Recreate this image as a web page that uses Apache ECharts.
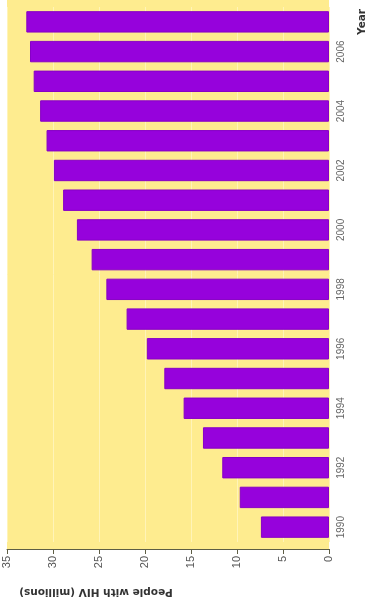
<!DOCTYPE html>
<html>
<head>
<meta charset="utf-8">
<script src="https://cdn.jsdelivr.net/npm/echarts@6/dist/echarts.min.js"></script>
<style>html,body{margin:0;padding:0;background:#fff}#c{width:370px;height:606px}</style>
</head>
<body>
<div id="c"></div>
<script>
var years = ['1990','1991','1992','1993','1994','1995','1996','1997','1998','1999','2000','2001','2002','2003','2004','2005','2006','2007'];
var peopleWithHIV = [7.4, 9.7, 11.6, 13.7, 15.8, 17.9, 19.8, 22.0, 24.2, 25.8, 27.4, 28.9, 29.9, 30.7, 31.4, 32.1, 32.5, 32.9];
var valueTicks = [0, 5, 10, 15, 20, 25, 30, 35];
var valueAxisTitle = 'People with HIV (millions)';
var categoryAxisTitle = 'Year';

var chart = echarts.init(document.getElementById('c'), null, {renderer: 'canvas'});
var font = "'Liberation Sans', Arial, sans-serif";
var titleFont = "'DejaVu Sans', Verdana, sans-serif";
chart.setOption({
  animation: false,
  grid: {left: 7, right: 41, top: 7, bottom: 64, containLabel: false},
  graphic: [
    {type: 'rect', z: -10, silent: true, shape: {x: 7, y: 0, width: 322, height: 549}, style: {fill: '#feec8f'}},
    {type: 'text', x: 96, y: 592, rotation: Math.PI, style: {text: valueAxisTitle, fontFamily: titleFont, fontSize: 10.5, fontWeight: 'bold', fill: '#333', align: 'center', verticalAlign: 'middle'}},
    {type: 'text', x: 362, y: 22, rotation: Math.PI / 2, style: {text: categoryAxisTitle, fontFamily: titleFont, fontSize: 10.5, fontWeight: 'bold', fill: '#333', align: 'center', verticalAlign: 'middle'}}
  ],
  xAxis: {
    type: 'value', inverse: true, min: valueTicks[0], max: valueTicks[valueTicks.length - 1], interval: 5,
    offset: 7,
    axisLine: {show: true, lineStyle: {color: '#5e5e45', width: 1}},
    axisTick: {show: true, length: 5, lineStyle: {color: '#5e5e45'}},
    axisLabel: {rotate: 90, margin: 7, color: '#555', fontSize: 11, fontFamily: font},
    splitLine: {show: true, lineStyle: {color: '#fff4b8', width: 1}}
  },
  yAxis: {
    type: 'category', position: 'right', data: years,
    axisLine: {show: false}, axisTick: {show: false},
    axisLabel: {interval: 1, rotate: 90, margin: 7, color: '#666', fontSize: 10, fontFamily: font}
  },
  series: [{
    type: 'bar', data: peopleWithHIV, barCategoryGap: '28%',
    itemStyle: {color: '#9602dc', borderColor: '#8600c6', borderWidth: 1}
  }]
});
</script>
</body>
</html>
